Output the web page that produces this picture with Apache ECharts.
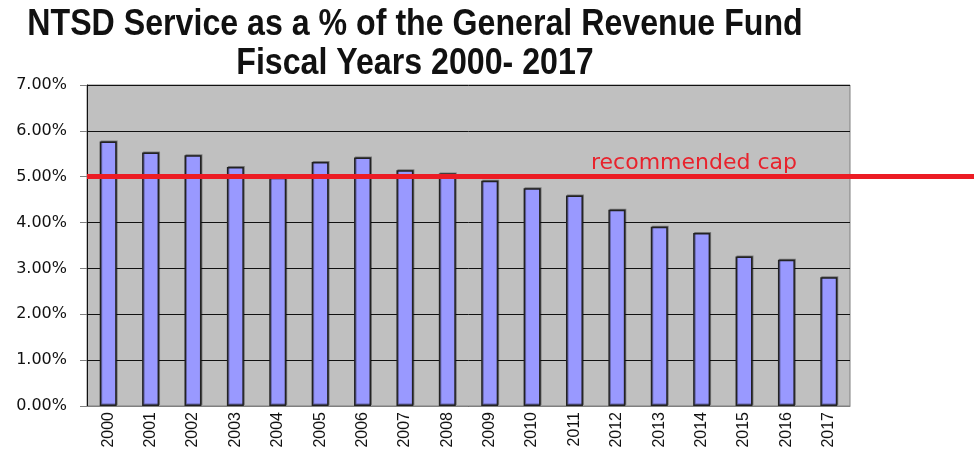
<!DOCTYPE html>
<html>
<head>
<meta charset="utf-8">
<script src="https://cdn.jsdelivr.net/npm/echarts@6/dist/echarts.min.js"></script>
<style>
  html, body { margin: 0; padding: 0; background: #fff; }
  #chart { width: 974px; height: 453px; }
</style>
</head>
<body>
<div id="chart"></div>
<script>
// fiscal years and NTSD service as % of the general revenue fund
const years = ['2000', '2001', '2002', '2003', '2004', '2005', '2006', '2007', '2008',
  '2009', '2010', '2011', '2012', '2013', '2014', '2015', '2016', '2017']
const servicePct = [5.77, 5.53, 5.47, 5.21, 4.98, 5.32, 5.42, 5.14, 5.07,
  4.91, 4.75, 4.59, 4.28, 3.91, 3.77, 3.26, 3.19, 2.81]
const capValue = 5
const capLabel = 'recommended cap'

const chart = echarts.init(document.getElementById('chart'))

chart.setOption({
  animation: false,
  graphic: [
    {
      type: 'text',
      x: 415,
      y: 25,
      scaleX: 0.893,
      style: {
        text: 'NTSD Service as a % of the General Revenue Fund',
        font: 'bold 36px "Liberation Sans", Arial, sans-serif',
        fill: '#111',
        align: 'center',
        verticalAlign: 'middle'
      }
    },
    {
      type: 'text',
      x: 415,
      y: 64,
      scaleX: 0.893,
      style: {
        text: 'Fiscal Years 2000- 2017',
        font: 'bold 36px "Liberation Sans", Arial, sans-serif',
        fill: '#111',
        align: 'center',
        verticalAlign: 'middle'
      }
    },
    {
      type: 'text',
      x: 591,
      y: 174,
      z: 10,
      style: {
        text: capLabel,
        font: '22px "DejaVu Sans", sans-serif',
        fill: '#e8222c',
        verticalAlign: 'bottom'
      }
    }
  ],
  grid: [
    {
      left: 87,
      right: 124,
      top: 85,
      bottom: 47,
      show: true,
      backgroundColor: '#c0c0c0',
      borderColor: '#808080',
      borderWidth: 1
    },
    {
      left: 87,
      right: 0,
      top: 85,
      bottom: 47
    }
  ],
  xAxis: [
    {
      type: 'category',
      gridIndex: 0,
      data: years,
      axisTick: { show: false },
      axisLine: { lineStyle: { color: '#808080', width: 1 } },
      axisLabel: {
        rotate: 90,
        color: '#111',
        fontSize: 16,
        fontFamily: 'Liberation Sans, Arial, sans-serif',
        margin: 6
      }
    },
    {
      type: 'value',
      gridIndex: 1,
      min: 0,
      max: 1,
      show: false
    }
  ],
  yAxis: [
    {
      type: 'value',
      gridIndex: 0,
      min: 0,
      max: 7,
      interval: 1,
      axisLine: { show: true, lineStyle: { color: '#111', width: 1 } },
      axisTick: { show: true, length: 7, lineStyle: { color: '#808080' } },
      splitLine: { lineStyle: { color: '#111', width: 1 } },
      axisLabel: {
        formatter: v => v.toFixed(2) + '%',
        color: '#111',
        fontSize: 16,
        fontFamily: 'DejaVu Sans, sans-serif',
        margin: 20
      }
    },
    {
      type: 'value',
      gridIndex: 1,
      min: 0,
      max: 7,
      show: false
    }
  ],
  series: [
    {
      type: 'bar',
      xAxisIndex: 0,
      yAxisIndex: 0,
      data: servicePct,
      barWidth: '40%',
      itemStyle: {
        color: '#9999ff',
        borderColor: '#222',
        borderWidth: 1.5,
        shadowColor: 'rgba(0,0,0,0.35)',
        shadowOffsetX: 1,
        shadowOffsetY: -1
      }
    },
    {
      type: 'line',
      xAxisIndex: 1,
      yAxisIndex: 1,
      data: [],
      markLine: {
        silent: true,
        symbol: 'none',
        label: { show: false },
        lineStyle: { color: '#ec1c24', width: 5, type: 'solid' },
        data: [{ yAxis: capValue }]
      }
    }
  ]
})
</script>
</body>
</html>
